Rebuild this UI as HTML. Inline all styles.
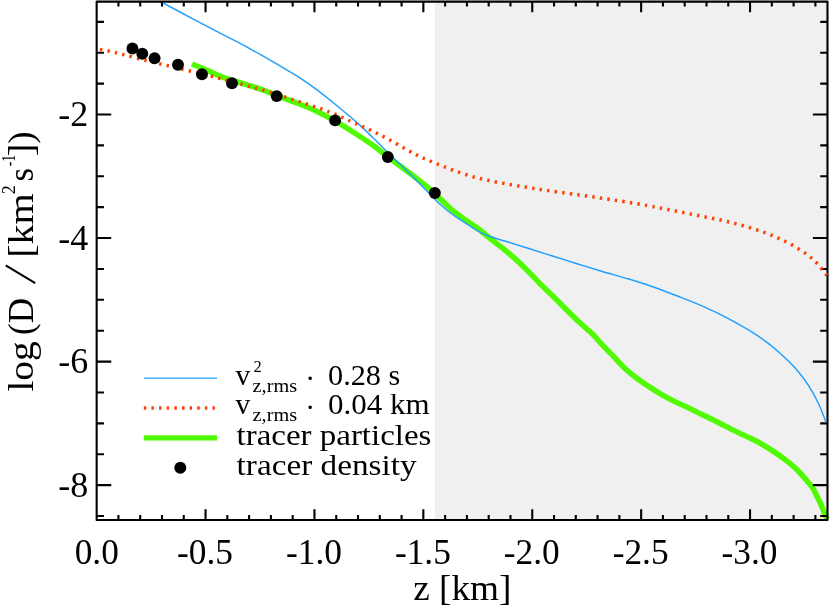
<!DOCTYPE html>
<html><head><meta charset="utf-8"><title>plot</title>
<style>html,body{margin:0;padding:0;background:#fff;}svg{display:block;will-change:transform;opacity:0.999;}text{font-family:"Liberation Serif",serif;fill:#000;}</style></head><body>
<svg width="830" height="612" viewBox="0 0 830 612">
<rect x="0" y="0" width="830" height="612" fill="#ffffff"/>
<rect x="434.85" y="1.60" width="392.65" height="518.40" fill="#f0f0f0"/>
<path d="M192.00 64.00 C194.60 65.10 202.53 68.40 207.60 70.60 C212.67 72.80 216.67 75.08 222.40 77.20 C228.13 79.32 235.47 81.25 242.00 83.30 C248.53 85.35 255.27 87.25 261.60 89.50 C267.93 91.75 274.48 94.68 280.00 96.80 C285.52 98.92 289.38 100.17 294.70 102.20 C300.02 104.23 305.18 105.90 311.90 109.00 C318.62 112.10 328.07 116.92 335.00 120.80 C341.93 124.68 347.35 128.33 353.50 132.30 C359.65 136.27 366.18 140.52 371.90 144.60 C377.62 148.68 382.70 152.93 387.80 156.80 C392.90 160.67 397.58 164.12 402.50 167.80 C407.42 171.48 411.98 174.70 417.30 178.90 C422.62 183.10 430.65 189.72 434.40 193.00 C438.15 196.28 437.27 196.15 439.80 198.60 C442.33 201.05 446.33 204.83 449.60 207.70 C452.87 210.57 456.13 213.33 459.40 215.80 C462.67 218.27 465.93 220.25 469.20 222.50 C472.47 224.75 475.73 226.82 479.00 229.30 C482.27 231.78 485.53 234.75 488.80 237.40 C492.07 240.05 496.15 243.30 498.60 245.20 C501.05 247.10 500.63 246.43 503.50 248.80 C506.37 251.17 511.72 255.68 515.80 259.40 C519.88 263.12 523.97 267.07 528.00 271.10 C532.03 275.13 535.95 279.53 540.00 283.60 C544.05 287.67 548.22 291.47 552.30 295.50 C556.38 299.53 560.42 303.73 564.50 307.80 C568.58 311.87 572.72 316.07 576.80 319.90 C580.88 323.73 585.95 328.00 589.00 330.80 C592.05 333.60 593.27 334.77 595.10 336.70 C596.93 338.63 597.13 339.32 600.00 342.40 C602.87 345.48 608.22 350.93 612.30 355.20 C616.38 359.47 620.42 364.15 624.50 368.00 C628.58 371.85 632.72 375.20 636.80 378.30 C640.88 381.40 644.92 383.93 649.00 386.60 C653.08 389.27 657.22 391.92 661.30 394.30 C665.38 396.68 669.42 398.85 673.50 400.90 C677.58 402.95 681.72 404.65 685.80 406.60 C689.88 408.55 693.58 410.45 698.00 412.60 C702.42 414.75 707.88 417.33 712.30 419.50 C716.72 421.67 720.42 423.53 724.50 425.60 C728.58 427.67 732.72 429.90 736.80 431.90 C740.88 433.90 744.92 435.60 749.00 437.60 C753.08 439.60 757.22 441.60 761.30 443.90 C765.38 446.20 769.42 448.68 773.50 451.40 C777.58 454.12 781.72 456.98 785.80 460.20 C789.88 463.42 794.38 467.15 798.00 470.70 C801.62 474.25 805.02 478.58 807.50 481.50 C809.98 484.42 811.33 485.73 812.90 488.20 C814.47 490.67 815.55 493.58 816.90 496.30 C818.25 499.02 819.77 501.77 821.00 504.50 C822.23 507.23 823.30 510.28 824.30 512.70 C825.30 515.12 826.55 517.95 827.00 519.00" fill="none" stroke="#50fa00" stroke-width="5.5" stroke-linejoin="round"/>
<rect x="96.65" y="1.60" width="730.85" height="518.40" fill="none" stroke="#000" stroke-width="2.1" stroke-linejoin="round"/>
<path d="M118.43 520.00 L118.43 515.00 M118.43 1.60 L118.43 6.60 M140.21 520.00 L140.21 515.00 M140.21 1.60 L140.21 6.60 M161.99 520.00 L161.99 515.00 M161.99 1.60 L161.99 6.60 M183.77 520.00 L183.77 515.00 M183.77 1.60 L183.77 6.60 M205.55 520.00 L205.55 509.30 M205.55 1.60 L205.55 12.30 M227.33 520.00 L227.33 515.00 M227.33 1.60 L227.33 6.60 M249.11 520.00 L249.11 515.00 M249.11 1.60 L249.11 6.60 M270.89 520.00 L270.89 515.00 M270.89 1.60 L270.89 6.60 M292.67 520.00 L292.67 515.00 M292.67 1.60 L292.67 6.60 M314.45 520.00 L314.45 509.30 M314.45 1.60 L314.45 12.30 M336.23 520.00 L336.23 515.00 M336.23 1.60 L336.23 6.60 M358.01 520.00 L358.01 515.00 M358.01 1.60 L358.01 6.60 M379.79 520.00 L379.79 515.00 M379.79 1.60 L379.79 6.60 M401.57 520.00 L401.57 515.00 M401.57 1.60 L401.57 6.60 M423.35 520.00 L423.35 509.30 M423.35 1.60 L423.35 12.30 M445.13 520.00 L445.13 515.00 M445.13 1.60 L445.13 6.60 M466.91 520.00 L466.91 515.00 M466.91 1.60 L466.91 6.60 M488.69 520.00 L488.69 515.00 M488.69 1.60 L488.69 6.60 M510.47 520.00 L510.47 515.00 M510.47 1.60 L510.47 6.60 M532.25 520.00 L532.25 509.30 M532.25 1.60 L532.25 12.30 M554.03 520.00 L554.03 515.00 M554.03 1.60 L554.03 6.60 M575.81 520.00 L575.81 515.00 M575.81 1.60 L575.81 6.60 M597.59 520.00 L597.59 515.00 M597.59 1.60 L597.59 6.60 M619.37 520.00 L619.37 515.00 M619.37 1.60 L619.37 6.60 M641.15 520.00 L641.15 509.30 M641.15 1.60 L641.15 12.30 M662.93 520.00 L662.93 515.00 M662.93 1.60 L662.93 6.60 M684.71 520.00 L684.71 515.00 M684.71 1.60 L684.71 6.60 M706.49 520.00 L706.49 515.00 M706.49 1.60 L706.49 6.60 M728.27 520.00 L728.27 515.00 M728.27 1.60 L728.27 6.60 M750.05 520.00 L750.05 509.30 M750.05 1.60 L750.05 12.30 M771.83 520.00 L771.83 515.00 M771.83 1.60 L771.83 6.60 M793.61 520.00 L793.61 515.00 M793.61 1.60 L793.61 6.60 M815.39 520.00 L815.39 515.00 M815.39 1.60 L815.39 6.60 M96.65 21.84 L103.95 21.84 M827.50 21.84 L820.20 21.84 M96.65 52.73 L103.95 52.73 M827.50 52.73 L820.20 52.73 M96.65 83.61 L103.95 83.61 M827.50 83.61 L820.20 83.61 M96.65 114.50 L111.25 114.50 M827.50 114.50 L812.90 114.50 M96.65 145.38 L103.95 145.38 M827.50 145.38 L820.20 145.38 M96.65 176.27 L103.95 176.27 M827.50 176.27 L820.20 176.27 M96.65 207.16 L103.95 207.16 M827.50 207.16 L820.20 207.16 M96.65 238.04 L111.25 238.04 M827.50 238.04 L812.90 238.04 M96.65 268.93 L103.95 268.93 M827.50 268.93 L820.20 268.93 M96.65 299.81 L103.95 299.81 M827.50 299.81 L820.20 299.81 M96.65 330.70 L103.95 330.70 M827.50 330.70 L820.20 330.70 M96.65 361.58 L111.25 361.58 M827.50 361.58 L812.90 361.58 M96.65 392.47 L103.95 392.47 M827.50 392.47 L820.20 392.47 M96.65 423.35 L103.95 423.35 M827.50 423.35 L820.20 423.35 M96.65 454.24 L103.95 454.24 M827.50 454.24 L820.20 454.24 M96.65 485.12 L111.25 485.12 M827.50 485.12 L812.90 485.12 M96.65 516.00 L103.95 516.00 M827.50 516.00 L820.20 516.00" stroke="#000" stroke-width="2.1" fill="none"/>
<path d="M162.90 2.80 C167.42 5.22 180.48 12.23 190.00 17.30 C199.52 22.37 211.73 28.90 220.00 33.20 C228.27 37.50 233.07 39.65 239.60 43.10 C246.13 46.55 252.67 50.22 259.20 53.90 C265.73 57.58 272.27 61.37 278.80 65.20 C285.33 69.03 291.87 72.67 298.40 76.90 C304.93 81.13 311.47 85.70 318.00 90.60 C324.53 95.50 331.05 100.92 337.60 106.30 C344.15 111.68 351.08 117.35 357.30 122.90 C363.52 128.45 369.82 134.65 374.90 139.60 C379.98 144.55 383.20 148.10 387.80 152.60 C392.40 157.10 397.58 161.82 402.50 166.60 C407.42 171.38 412.38 176.37 417.30 181.30 C422.22 186.23 428.25 192.42 432.00 196.20 C435.75 199.98 436.87 201.33 439.80 204.00 C442.73 206.67 446.33 209.67 449.60 212.20 C452.87 214.73 456.13 216.98 459.40 219.20 C462.67 221.42 465.93 223.43 469.20 225.50 C472.47 227.57 475.73 229.85 479.00 231.60 C482.27 233.35 485.53 234.73 488.80 236.00 C492.07 237.27 495.07 238.10 498.60 239.20 C502.13 240.30 505.10 241.10 510.00 242.60 C514.90 244.10 520.92 245.97 528.00 248.20 C535.08 250.43 544.33 253.42 552.50 256.00 C560.67 258.58 568.82 261.17 577.00 263.70 C585.18 266.23 593.10 268.68 601.60 271.20 C610.10 273.72 619.52 276.22 628.00 278.80 C636.48 281.38 644.17 283.80 652.50 286.70 C660.83 289.60 669.67 292.97 678.00 296.20 C686.33 299.43 694.17 302.42 702.50 306.10 C710.83 309.78 719.67 313.92 728.00 318.30 C736.33 322.68 745.95 328.33 752.50 332.40 C759.05 336.47 762.38 338.93 767.30 342.70 C772.22 346.47 777.10 350.50 782.00 355.00 C786.90 359.50 792.22 364.52 796.70 369.70 C801.18 374.88 805.23 380.38 808.90 386.10 C812.57 391.82 815.83 397.95 818.70 404.00 C821.57 410.05 824.87 419.33 826.10 422.40" fill="none" stroke="#1e9fff" stroke-width="1.45"/>
<path d="M96.65 48.90 C98.61 49.25 104.01 50.07 108.40 51.00 C112.79 51.93 116.90 52.95 123.00 54.50 C129.10 56.05 137.50 58.43 145.00 60.30 C152.50 62.17 160.50 63.92 168.00 65.70 C175.50 67.48 182.58 69.20 190.00 71.00 C197.42 72.80 203.83 74.27 212.50 76.50 C221.17 78.73 233.33 82.07 242.00 84.40 C250.67 86.73 257.17 88.33 264.50 90.50 C271.83 92.67 279.33 95.25 286.00 97.40 C292.67 99.55 298.55 101.47 304.50 103.40 C310.45 105.33 316.62 107.20 321.70 109.00 C326.78 110.80 330.30 112.20 335.00 114.20 C339.70 116.20 345.18 118.88 349.90 121.00 C354.62 123.12 358.82 124.87 363.30 126.90 C367.78 128.93 372.30 130.98 376.80 133.20 C381.30 135.42 385.60 137.63 390.30 140.20 C395.00 142.77 400.30 145.98 405.00 148.60 C409.70 151.22 414.00 153.70 418.50 155.90 C423.00 158.10 427.42 159.87 432.00 161.80 C436.58 163.73 441.33 165.70 446.00 167.50 C450.67 169.30 455.25 170.98 460.00 172.60 C464.75 174.22 469.70 175.88 474.50 177.20 C479.30 178.52 483.97 179.47 488.80 180.50 C493.63 181.53 498.60 182.50 503.50 183.40 C508.40 184.30 513.30 185.08 518.20 185.90 C523.10 186.72 528.00 187.52 532.90 188.30 C537.80 189.08 542.48 189.85 547.60 190.60 C552.72 191.35 558.28 192.08 563.60 192.80 C568.92 193.52 574.40 194.18 579.50 194.90 C584.60 195.62 589.30 196.37 594.20 197.10 C599.10 197.83 603.78 198.53 608.90 199.30 C614.02 200.07 618.52 200.67 624.90 201.70 C631.28 202.73 641.03 204.38 647.20 205.50 C653.37 206.62 657.00 207.45 661.90 208.40 C666.80 209.35 671.70 210.25 676.60 211.20 C681.50 212.15 686.40 213.12 691.30 214.10 C696.20 215.08 700.90 216.07 706.00 217.10 C711.10 218.13 716.80 219.17 721.90 220.30 C727.00 221.43 731.70 222.60 736.60 223.90 C741.50 225.20 746.40 226.57 751.30 228.10 C756.20 229.63 761.30 231.33 766.00 233.10 C770.70 234.87 775.00 236.63 779.50 238.70 C784.00 240.77 788.50 242.93 793.00 245.50 C797.50 248.07 802.42 251.03 806.50 254.10 C810.58 257.17 814.12 260.35 817.50 263.90 C820.88 267.45 825.25 273.48 826.80 275.40" fill="none" stroke="#ff4000" stroke-width="3.5" stroke-dasharray="2.4 5.2" stroke-dashoffset="-3.4"/>
<circle cx="132.40" cy="48.50" r="5.95" fill="#000"/>
<circle cx="142.30" cy="53.70" r="5.95" fill="#000"/>
<circle cx="154.60" cy="58.30" r="5.95" fill="#000"/>
<circle cx="178.00" cy="64.70" r="5.95" fill="#000"/>
<circle cx="202.00" cy="74.20" r="5.95" fill="#000"/>
<circle cx="232.00" cy="83.30" r="5.95" fill="#000"/>
<circle cx="276.70" cy="96.10" r="5.95" fill="#000"/>
<circle cx="335.10" cy="120.40" r="5.95" fill="#000"/>
<circle cx="387.80" cy="157.00" r="5.95" fill="#000"/>
<circle cx="434.85" cy="193.00" r="5.95" fill="#000"/>
<path d="M143.8 378.1 H217.1" stroke="#1e9fff" stroke-width="1.45" fill="none"/>
<path d="M143.8 408 H217.1" stroke="#ff4000" stroke-width="3.5" stroke-dasharray="2.4 5.24" fill="none"/>
<path d="M143.8 437.9 H217.1" stroke="#50fa00" stroke-width="5.4" fill="none"/>
<circle cx="180.3" cy="467.7" r="6.0" fill="#000"/>
<text x="88.2" y="126.40" font-size="36" text-anchor="end">-2</text>
<text x="88.2" y="249.94" font-size="36" text-anchor="end">-4</text>
<text x="88.2" y="373.48" font-size="36" text-anchor="end">-6</text>
<text x="88.2" y="497.02" font-size="36" text-anchor="end">-8</text>
<text x="96.75" y="564.4" font-size="36.3" text-anchor="middle" textLength="44.0" lengthAdjust="spacingAndGlyphs">0.0</text>
<text x="205.05" y="564.4" font-size="36.3" text-anchor="middle" textLength="55.9" lengthAdjust="spacingAndGlyphs">-0.5</text>
<text x="313.95" y="564.4" font-size="36.3" text-anchor="middle" textLength="55.9" lengthAdjust="spacingAndGlyphs">-1.0</text>
<text x="422.85" y="564.4" font-size="36.3" text-anchor="middle" textLength="55.9" lengthAdjust="spacingAndGlyphs">-1.5</text>
<text x="531.75" y="564.4" font-size="36.3" text-anchor="middle" textLength="55.9" lengthAdjust="spacingAndGlyphs">-2.0</text>
<text x="640.65" y="564.4" font-size="36.3" text-anchor="middle" textLength="55.9" lengthAdjust="spacingAndGlyphs">-2.5</text>
<text x="749.55" y="564.4" font-size="36.3" text-anchor="middle" textLength="55.9" lengthAdjust="spacingAndGlyphs">-3.0</text>
<text x="413.2" y="600.4" font-size="35" textLength="98.3" lengthAdjust="spacingAndGlyphs">z [km]</text>
<g transform="translate(32.6 391.8) rotate(-90)" font-size="35"><text x="0.2" y="0" textLength="50.3" lengthAdjust="spacingAndGlyphs">log</text><text x="56.8" y="0" textLength="37.0" lengthAdjust="spacingAndGlyphs">(D</text><path d="M108.6 2.6 L126.4 -26.9" stroke="#000" stroke-width="2.0" fill="none"/><text x="134.0" y="0" textLength="64.5" lengthAdjust="spacingAndGlyphs">[km</text><text x="197.6" y="-17.9" font-size="18">2</text><text x="210.2" y="0">s</text><text x="225.6" y="-17.4" font-size="18" textLength="11.4" lengthAdjust="spacingAndGlyphs">-1</text><text x="235.6" y="0" textLength="24.8" lengthAdjust="spacingAndGlyphs">])</text></g>
<text x="235.6" y="384.7" font-size="29.5">v</text>
<text x="253.4" y="371.6" font-size="16.5">2</text>
<text x="252.6" y="392.2" font-size="19" textLength="44.5" lengthAdjust="spacingAndGlyphs">z,rms</text>
<text x="305.2" y="388.1" font-size="29.5">·</text>
<text x="328" y="384.7" font-size="29.5" textLength="72.3" lengthAdjust="spacingAndGlyphs">0.28 s</text>
<text x="235.6" y="413.8" font-size="29.5">v</text>
<text x="252.6" y="421.3" font-size="19" textLength="44.5" lengthAdjust="spacingAndGlyphs">z,rms</text>
<text x="305.2" y="417.2" font-size="29.5">·</text>
<text x="328" y="413.8" font-size="29.5" textLength="101.5" lengthAdjust="spacingAndGlyphs">0.04 km</text>
<text x="236.6" y="445.0" font-size="29.5" textLength="194.8" lengthAdjust="spacingAndGlyphs">tracer particles</text>
<text x="236.6" y="474.8" font-size="29.5" textLength="180.0" lengthAdjust="spacingAndGlyphs">tracer density</text>
</svg></body></html>
